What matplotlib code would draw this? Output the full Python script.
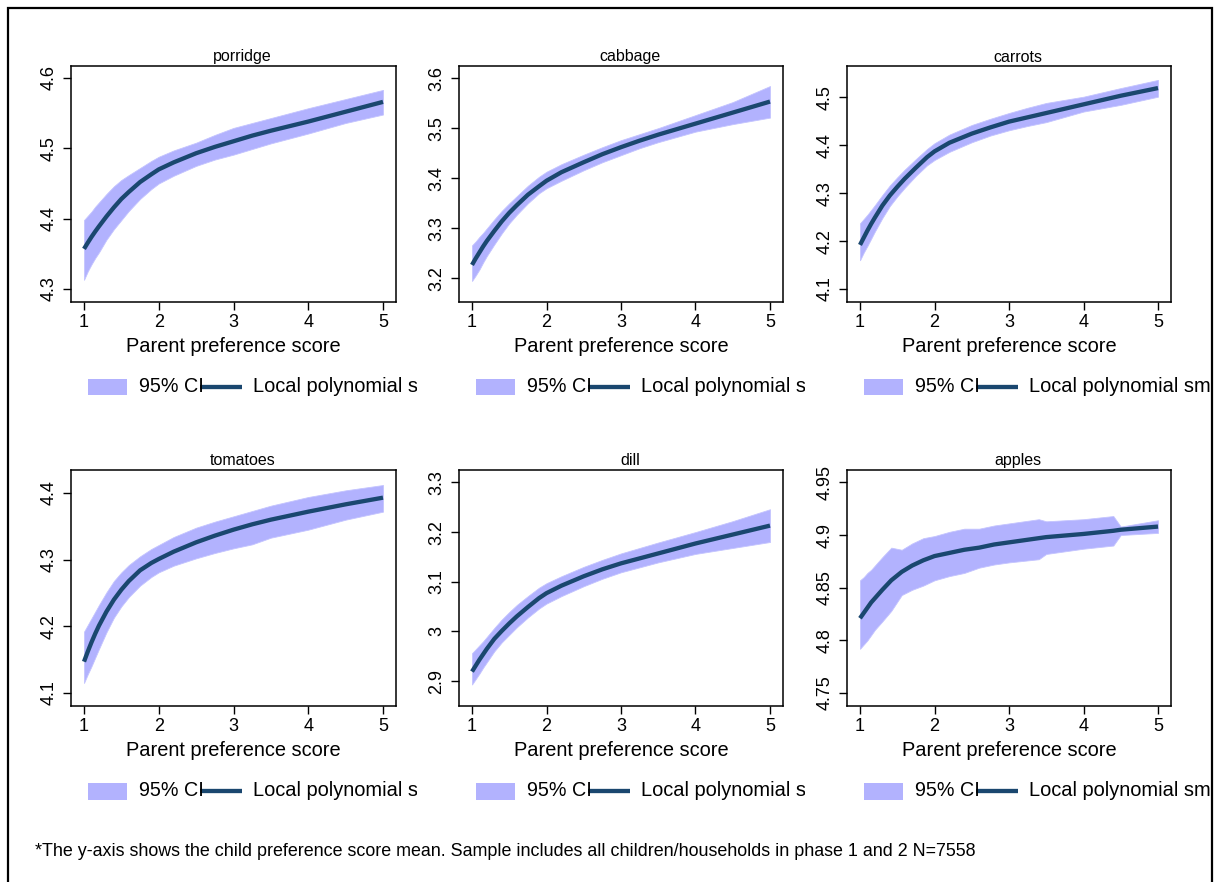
import matplotlib
matplotlib.use("Agg")
import matplotlib.pyplot as plt
from matplotlib.patches import Rectangle
from matplotlib.lines import Line2D
from matplotlib.transforms import Bbox, TransformedBbox

plt.rcParams['font.family'] = ['Liberation Sans', 'DejaVu Sans']

W, H = 1218, 882
FILL = '#b2b2fe'
NAVY = '#1a476f'

titles = ['porridge', 'cabbage', 'carrots', 'tomatoes', 'dill', 'apples']

x_grid = [1, 1.05, 1.1, 1.15, 1.2, 1.3, 1.4, 1.5, 1.6, 1.75, 1.9, 2,
          2.2, 2.5, 2.75, 3, 3.25, 3.5, 4, 4.5, 5]

porridge_fit = [4.357, 4.3657, 4.374, 4.3817, 4.389, 4.403, 4.416, 4.428, 4.438, 4.452, 4.463, 4.470,
                4.480, 4.493, 4.502, 4.510, 4.518, 4.525, 4.538, 4.552, 4.566]
porridge_hi = [4.398, 4.404, 4.410, 4.417, 4.423, 4.435, 4.446, 4.455, 4.462, 4.472, 4.482, 4.488,
               4.497, 4.508, 4.519, 4.529, 4.536, 4.543, 4.557, 4.570, 4.583]
porridge_lo = [4.313, 4.325, 4.335, 4.344, 4.352, 4.370, 4.385, 4.398, 4.411, 4.428, 4.442, 4.450,
               4.461, 4.475, 4.484, 4.491, 4.499, 4.507, 4.521, 4.536, 4.548]

cabbage_fit = [3.227, 3.240, 3.252, 3.264, 3.275, 3.295, 3.314, 3.331, 3.346, 3.367, 3.384, 3.395,
               3.412, 3.432, 3.448, 3.462, 3.475, 3.487, 3.509, 3.531, 3.553]
cabbage_hi = [3.266, 3.274, 3.283, 3.291, 3.300, 3.318, 3.335, 3.350, 3.364, 3.385, 3.403, 3.413,
              3.428, 3.447, 3.462, 3.476, 3.488, 3.500, 3.526, 3.552, 3.584]
cabbage_lo = [3.195, 3.206, 3.218, 3.232, 3.245, 3.268, 3.290, 3.310, 3.327, 3.350, 3.370, 3.380,
              3.395, 3.416, 3.432, 3.446, 3.460, 3.472, 3.493, 3.508, 3.521]

carrots_fit = [4.192, 4.207, 4.222, 4.236, 4.249, 4.274, 4.295, 4.313, 4.330, 4.353, 4.375, 4.387,
               4.405, 4.424, 4.437, 4.449, 4.458, 4.467, 4.485, 4.503, 4.519]
carrots_hi = [4.237, 4.246, 4.255, 4.265, 4.275, 4.296, 4.316, 4.333, 4.349, 4.371, 4.392, 4.404,
              4.422, 4.442, 4.455, 4.467, 4.478, 4.488, 4.501, 4.519, 4.536]
carrots_lo = [4.160, 4.176, 4.190, 4.205, 4.220, 4.248, 4.273, 4.293, 4.311, 4.336, 4.358, 4.369,
              4.386, 4.406, 4.420, 4.431, 4.440, 4.448, 4.470, 4.484, 4.501]

tomatoes_fit = [4.147, 4.162, 4.176, 4.189, 4.201, 4.222, 4.240, 4.255, 4.268, 4.284, 4.295, 4.301,
                4.312, 4.326, 4.336, 4.345, 4.353, 4.360, 4.372, 4.383, 4.393]
tomatoes_hi = [4.192, 4.202, 4.212, 4.222, 4.232, 4.251, 4.268, 4.281, 4.292, 4.305, 4.316, 4.322,
               4.334, 4.348, 4.357, 4.365, 4.373, 4.381, 4.394, 4.404, 4.412]
tomatoes_lo = [4.115, 4.128, 4.140, 4.153, 4.166, 4.191, 4.213, 4.230, 4.244, 4.261, 4.274, 4.281,
               4.291, 4.302, 4.310, 4.317, 4.323, 4.333, 4.345, 4.360, 4.372]

dill_fit = [2.919, 2.931, 2.943, 2.954, 2.965, 2.985, 3.001, 3.016, 3.030, 3.049, 3.067, 3.077,
            3.092, 3.111, 3.125, 3.137, 3.147, 3.157, 3.177, 3.195, 3.213]
dill_hi = [2.956, 2.964, 2.972, 2.980, 2.989, 3.007, 3.024, 3.039, 3.053, 3.071, 3.088, 3.097,
           3.111, 3.130, 3.144, 3.157, 3.168, 3.179, 3.200, 3.222, 3.246]
dill_lo = [2.893, 2.904, 2.915, 2.927, 2.938, 2.960, 2.978, 2.993, 3.008, 3.028, 3.046, 3.056,
           3.071, 3.091, 3.106, 3.119, 3.129, 3.139, 3.156, 3.168, 3.180]

apples_x = [1, 1.05, 1.1, 1.15, 1.2, 1.3, 1.42, 1.56, 1.7, 1.85, 2, 2.2, 2.4, 2.6, 2.8, 3,
            3.4, 3.5, 4, 4.4, 4.5, 5]
apples_fit = [4.821, 4.826, 4.831, 4.836, 4.840, 4.848, 4.857, 4.865, 4.871, 4.876, 4.880, 4.883,
              4.886, 4.888, 4.891, 4.893, 4.897, 4.898, 4.901, 4.904, 4.905, 4.908]
apples_hi = [4.857, 4.860, 4.864, 4.867, 4.871, 4.879, 4.888, 4.886, 4.892, 4.897, 4.899, 4.903,
             4.906, 4.906, 4.909, 4.911, 4.915, 4.913, 4.915, 4.918, 4.908, 4.914]
apples_lo = [4.792, 4.796, 4.800, 4.805, 4.810, 4.818, 4.828, 4.843, 4.848, 4.852, 4.857, 4.861,
             4.864, 4.869, 4.872, 4.874, 4.877, 4.882, 4.887, 4.890, 4.900, 4.902]

panels = [
    (x_grid, porridge_fit, porridge_lo, porridge_hi),
    (x_grid, cabbage_fit, cabbage_lo, cabbage_hi),
    (x_grid, carrots_fit, carrots_lo, carrots_hi),
    (x_grid, tomatoes_fit, tomatoes_lo, tomatoes_hi),
    (x_grid, dill_fit, dill_lo, dill_hi),
    (apples_x, apples_fit, apples_lo, apples_hi),
]

y_ticks = [
    [4.3, 4.4, 4.5, 4.6],
    [3.2, 3.3, 3.4, 3.5, 3.6],
    [4.1, 4.2, 4.3, 4.4, 4.5],
    [4.1, 4.2, 4.3, 4.4],
    [2.9, 3.0, 3.1, 3.2, 3.3],
    [4.75, 4.8, 4.85, 4.9, 4.95],
]
y_ticklabels = [
    ['4.3', '4.4', '4.5', '4.6'],
    ['3.2', '3.3', '3.4', '3.5', '3.6'],
    ['4.1', '4.2', '4.3', '4.4', '4.5'],
    ['4.1', '4.2', '4.3', '4.4'],
    ['2.9', '3', '3.1', '3.2', '3.3'],
    ['4.75', '4.8', '4.85', '4.9', '4.95'],
]
y_limits = [
    (4.2815, 4.617),
    (3.153, 3.624),
    (4.073, 4.565),
    (4.0805, 4.4345),
    (2.8497, 3.325),
    (4.7377, 4.9617),
]
x_ticks = [1, 2, 3, 4, 5]
x_label = 'Parent preference score'
legend_labels = ['95% CI', 'Local polynomial smooth']
footnote = ('*The y-axis shows the child preference score mean. Sample includes all '
            'children/households in phase 1 and 2 N=7558')

# layout (pixels)
col_left = [71, 459, 847]
col_right = [396, 783, 1171]
row_top = [66, 470]
row_bot = [302, 706]
legend_y = [387, 791]
clip_right = [417, 805, 1211]
title_y = [57, 461]
xlabel_y = [347, 750]

fig = plt.figure(figsize=(W / 100, H / 100), dpi=100)
fx = lambda px: px / W
fy = lambda py: 1 - py / H

for i in range(6):
    r, c = divmod(i, 3)
    L, R = col_left[c], col_right[c]
    T, B = row_top[r], row_bot[r]
    ax = fig.add_axes([fx(L), fy(B), fx(R - L), (B - T) / H])
    xs, fit, lo, hi = panels[i]
    ax.fill_between(xs, lo, hi, color=FILL, lw=0.6, edgecolor='#c4c4ff')
    ax.plot(xs, fit, color=NAVY, lw=3.1, solid_capstyle='butt',
            solid_joinstyle='round')
    ppu = (R - L - 26) / 4
    ax.set_xlim(1 - 13 / ppu, 5 + 13 / ppu)
    ax.set_ylim(*y_limits[i])
    ax.set_xticks(x_ticks)
    ax.set_xticklabels([str(v) for v in x_ticks])
    ax.set_yticks(y_ticks[i])
    ax.set_yticklabels(y_ticklabels[i])
    ax.tick_params(axis='both', direction='out', length=5.8, width=1.0,
                   labelsize=13, color='black')
    ax.tick_params(axis='x', pad=3)
    ax.tick_params(axis='y', pad=4, labelrotation=90)
    for lab in ax.get_yticklabels():
        lab.set_verticalalignment('center')
    for s in ax.spines.values():
        s.set_linewidth(1.1)
    fig.text(fx((L + R) / 2 + 9), fy(title_y[r]), titles[i], ha='center',
             va='center', fontsize=11.5)
    fig.text(fx((L + R) / 2), fy(xlabel_y[r]), x_label, ha='center',
             va='center', fontsize=14.4)
    # legend
    Y = legend_y[r]
    fig.patches.append(Rectangle((fx(L + 17), fy(Y + 8.5)), fx(39), 17 / H,
                                 transform=fig.transFigure, facecolor=FILL,
                                 edgecolor='none'))
    fig.text(fx(L + 68), fy(Y), legend_labels[0], ha='left', va='center',
             fontsize=14.2)
    fig.lines.append(Line2D([fx(L + 129), fx(L + 171)], [fy(Y), fy(Y)],
                            transform=fig.transFigure, color=NAVY, lw=3.1,
                            solid_capstyle='butt'))
    t = fig.text(fx(L + 182), fy(Y), legend_labels[1], ha='left', va='center',
                 fontsize=14.4)
    t.set_clip_on(True)
    t.set_clip_box(TransformedBbox(Bbox([[0, 0], [fx(clip_right[c]), 1]]),
                                   fig.transFigure))

fig.text(fx(35), fy(852), footnote, ha='left', va='center', fontsize=12.9)

# outer frame
fig.patches.append(Rectangle((fx(8), fy(H + 20)), fx(1212 - 8), (H + 20 - 8) / H,
                             transform=fig.transFigure, facecolor='none',
                             edgecolor='black', lw=1.6, clip_on=False))

fig.savefig('out.png', dpi=100)
